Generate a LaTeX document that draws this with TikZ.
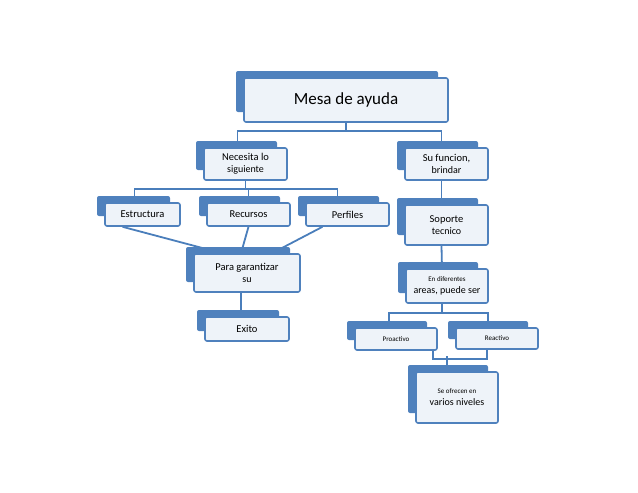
\documentclass[tikz,border=0pt]{standalone}
\usepackage{fontspec}
\setmainfont{Carlito}
\usetikzlibrary{backgrounds}
\definecolor{bk}{HTML}{4F81BD}
\definecolor{fr}{HTML}{EEF3F9}
\definecolor{ln}{HTML}{4A7EBB}
\tikzset{front/.style={draw=bk,line width=1.6pt,fill=fr,rounded corners=2pt,align=center,inner sep=1pt},
 conn/.style={draw=ln,line width=1.8pt}}
% back rect, front node: name, x1,y1,x2,y2 of front, text
\newcommand\mybox[7]{%
 \fill[bk,rounded corners=2pt] (#2-8,#3-7) rectangle (#4-10,#5-10);
 \node[front,minimum width=#4-#2,minimum height=#5-#3] (#1) at ({(#2+#4)/2},{(#3+#5)/2}) {#7#6};}
\begin{document}
\begin{tikzpicture}[x=1pt,y=-1pt]
\useasboundingbox (0,0) rectangle (638,493);
\mybox{mesa}{244}{78}{448}{122}{Mesa de ayuda}{\fontsize{17}{19}\selectfont}
\mybox{nec}{204}{148}{287}{180}{Necesita lo\\siguiente}{\fontsize{10.5}{12}\selectfont}
\mybox{su}{405}{148}{488}{180}{Su funcion,\\brindar}{\fontsize{10.5}{12}\selectfont}
\mybox{est}{105}{203}{180}{226}{Estructura}{\fontsize{10.5}{12}\selectfont}
\mybox{rec}{207}{203}{290}{226}{Recursos}{\fontsize{10.5}{12}\selectfont}
\mybox{per}{306}{203}{389}{226}{Perfiles}{\fontsize{10.5}{12}\selectfont}
\mybox{sop}{405}{205}{488}{245}{Soporte\\tecnico}{\fontsize{10.5}{12}\selectfont}
\mybox{para}{194}{254}{300}{292}{Para garantizar\\su}{\fontsize{10.5}{12}\selectfont}
\mybox{exi}{205}{317}{289}{341}{Exito}{\fontsize{10.5}{12}\selectfont}
\mybox{en}{406}{269}{488}{303}{En diferentes\\areas, puede ser}{\fontsize{7}{9}\selectfont}
\mybox{pro}{355}{328}{437}{350}{Proactivo}{\fontsize{7}{9}\selectfont}
\mybox{rea}{456}{328}{538}{349}{Reactivo}{\fontsize{7}{9}\selectfont}
\mybox{se}{416}{372}{498}{423}{Se ofrecen en\\varios niveles}{\fontsize{7}{9}\selectfont}
\begin{pgfonlayer}{background}
\draw[conn] (mesa.south) -- ++(0,8) -| ([xshift=-8pt]nec.north);
\draw[conn] (mesa.south) -- ++(0,8) -| ([xshift=-5pt]su.north);
\draw[conn] (nec.south) -- ++(0,8) -| ([xshift=-8pt]est.north);
\draw[conn] (nec.south) -- ++(0,8) -| (rec.north);
\draw[conn] (nec.south) -- ++(0,8) -| ([xshift=-10pt]per.north);
\draw[conn] ([xshift=-20pt]est.south) -- ([xshift=-25pt]para.north);
\draw[conn] (rec.south) -- ([xshift=-6pt]para.north);
\draw[conn] ([xshift=-25pt]per.south) -- ([xshift=25pt]para.north);
\draw[conn] ([xshift=-6pt]para.south) -- ([xshift=-6pt]exi.north);
\draw[conn] ([xshift=-5pt]su.south) -- ([xshift=-5pt]sop.north);
\draw[conn] ([xshift=-5pt]sop.south) -- ([xshift=-5pt]en.north);
\draw[conn] ([xshift=-5pt]en.south) -- ++(0,9) -| ([xshift=-7pt]pro.north);
\draw[conn] ([xshift=-5pt]en.south) -- ++(0,9) -| ([xshift=-9pt]rea.north);
\draw[conn] ([xshift=37pt]pro.south) -- ++(0,8) -| ([xshift=-10pt]rea.south);
\draw[conn] ([xshift=-10pt]se.north) -- ++(0,-15);
\end{pgfonlayer}
\end{tikzpicture}
\end{document}
